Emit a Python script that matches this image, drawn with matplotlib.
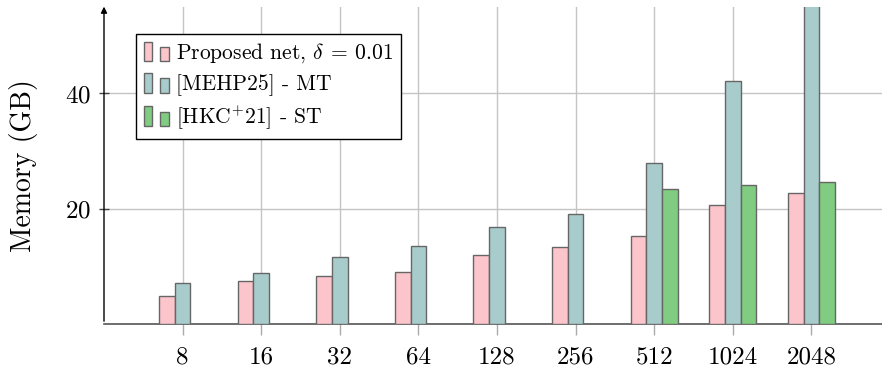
import matplotlib
matplotlib.use("Agg")
import matplotlib.pyplot as plt
import numpy as np
from matplotlib.patches import Patch, Rectangle
from matplotlib.legend_handler import HandlerBase

plt.rcParams['font.family'] = 'cmr10'
plt.rcParams['mathtext.fontset'] = 'cm'
plt.rcParams['axes.formatter.use_mathtext'] = True

# data
sizes = ['8', '16', '32', '64', '128', '256', '512', '1024', '2048']
proposed = [4.9, 7.4, 8.4, 9.1, 12.0, 13.3, 15.2, 20.6, 22.7]
mehp = [7.2, 8.9, 11.6, 13.6, 16.9, 19.0, 28.0, 42.2, 62.0]
hkc = [np.nan, np.nan, np.nan, np.nan, np.nan, np.nan, 23.4, 24.2, 24.7]
labels = [r'Proposed net, $\delta\:=\:0.01$', '[MEHP25] - MT', r'[HKC$^{+}$21] - ST']
colors = ['#fcc4cb', '#a8cccc', '#80cc80']


# pgfplots-like ybar legend image: two small bars
class TwoBars(HandlerBase):
    def create_artists(self, legend, orig_handle, xdescent, ydescent,
                       width, height, fontsize, trans):
        fc = orig_handle.get_facecolor()
        ec = orig_handle.get_edgecolor()
        x0, y0 = -xdescent, -ydescent
        w = width * 0.33
        r1 = Rectangle((x0, y0), w, height, fc=fc, ec=ec, lw=1, transform=trans)
        r2 = Rectangle((x0 + width * 0.67, y0), w, height * 0.72, fc=fc, ec=ec, lw=1, transform=trans)
        return [r1, r2]


fig = plt.figure(figsize=(8.82, 3.67), dpi=100)
ax = fig.add_axes([104 / 882, 43 / 367, 786 / 882, 317 / 367])

x = np.arange(len(sizes))
bw = 0.2
for i, (vals, c) in enumerate(zip([proposed, mehp, hkc], colors)):
    ax.bar(x + (i - 1) * bw, vals, width=bw, color=c, edgecolor='#666666', lw=1, zorder=3)

ax.set_xlim(-1, 9)
ax.set_ylim(0, 55)
ax.set_xticks(x)
ax.set_xticklabels(sizes)
ax.set_yticks([20, 40])
ax.grid(True, color='#c4c4c4', lw=1, zorder=0)
ax.set_axisbelow(True)

ax.tick_params(axis='x', direction='out', length=8, width=1, color='#aaaaaa', labelsize=18, pad=8)
ax.tick_params(axis='y', direction='inout', length=7, width=1, color='#444444', labelsize=18, pad=6)

for s in ['top', 'right', 'left']:
    ax.spines[s].set_visible(False)
ax.spines['bottom'].set_color('#555555')
ax.spines['bottom'].set_linewidth(1.2)

# y axis with arrow on top
ax.annotate('', xy=(0, 1.01), xytext=(0, 0), xycoords='axes fraction',
            arrowprops=dict(arrowstyle='-|>', color='black', lw=1, mutation_scale=9),
            annotation_clip=False)

ax.set_ylabel('Memory (GB)', fontsize=20, labelpad=19)

handles = [Patch(facecolor=c, edgecolor='#666666') for c in colors]
leg = ax.legend(handles, labels, loc='upper left', bbox_to_anchor=(0.041, 0.915),
                borderaxespad=0, fontsize=15.5, fancybox=False, framealpha=1,
                edgecolor='black', handlelength=1.15, handleheight=1.05,
                handletextpad=0.35, labelspacing=0.35, borderpad=0.35,
                handler_map={Patch: TwoBars()})
leg.get_frame().set_linewidth(1)
leg.set_zorder(5)

fig.savefig('out.png', dpi=100)
